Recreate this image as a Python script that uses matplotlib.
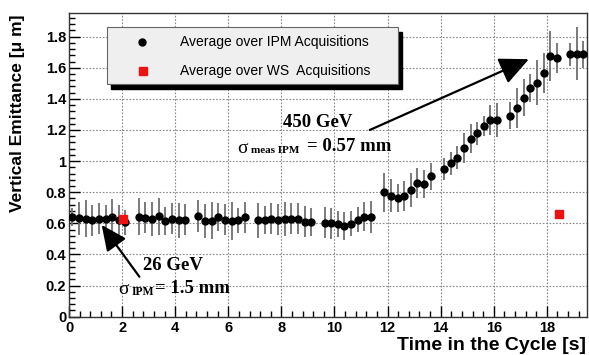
import matplotlib
matplotlib.use("Agg")
import matplotlib.pyplot as plt
from matplotlib.patches import Rectangle
from matplotlib.ticker import MultipleLocator, FuncFormatter
from matplotlib.lines import Line2D

# ---- data ----
ipm_time = [0.125, 0.375, 0.625, 0.875, 1.125, 1.375, 1.625, 1.875, 2.125,
            2.625, 2.875, 3.125, 3.375, 3.625, 3.875, 4.125, 4.375,
            4.875, 5.125, 5.375, 5.625, 5.875, 6.125, 6.375, 6.625,
            7.125, 7.375, 7.625, 7.875, 8.125, 8.375, 8.625, 8.875, 9.125,
            9.625, 9.875, 10.125, 10.375, 10.625, 10.875, 11.125, 11.375,
            11.875, 12.125, 12.375, 12.625, 12.875, 13.125, 13.375, 13.625,
            14.125, 14.375, 14.625, 14.875, 15.125, 15.375, 15.625, 15.875, 16.125,
            16.625, 16.875, 17.125, 17.375, 17.625, 17.875, 18.125, 18.375,
            18.875, 19.125, 19.375]
ipm_emit = [0.640, 0.632, 0.630, 0.620, 0.630, 0.626, 0.638, 0.620, 0.606,
            0.643, 0.637, 0.627, 0.645, 0.618, 0.630, 0.619, 0.624,
            0.647, 0.615, 0.618, 0.638, 0.622, 0.615, 0.620, 0.638,
            0.619, 0.619, 0.629, 0.622, 0.629, 0.629, 0.629, 0.611, 0.611,
            0.604, 0.600, 0.597, 0.585, 0.599, 0.623, 0.643, 0.641,
            0.800, 0.777, 0.762, 0.774, 0.812, 0.858, 0.855, 0.903,
            0.948, 0.986, 1.022, 1.083, 1.145, 1.178, 1.226, 1.265, 1.265,
            1.291, 1.340, 1.408, 1.469, 1.505, 1.565, 1.677, 1.662,
            1.687, 1.689, 1.687]
ipm_err = [0.06, 0.107, 0.12, 0.10, 0.10, 0.09, 0.12, 0.10, 0.08,
           0.12, 0.10, 0.11, 0.12, 0.09, 0.10, 0.11, 0.10,
           0.10, 0.11, 0.12, 0.09, 0.10, 0.12, 0.08, 0.10,
           0.11, 0.09, 0.10, 0.10, 0.11, 0.10, 0.10, 0.10, 0.09,
           0.10, 0.10, 0.085, 0.09, 0.08, 0.08, 0.095, 0.10,
           0.125, 0.107, 0.09, 0.096, 0.11, 0.096, 0.09, 0.086,
           0.07, 0.075, 0.075, 0.095, 0.096, 0.075, 0.065, 0.096, 0.107,
           0.086, 0.13, 0.118, 0.09, 0.145, 0.128, 0.16, 0.096,
           0.075, 0.17, 0.086]

ws_time = [2.02, 18.45]
ws_emit = [0.626, 0.658]

legend_labels = ["Average over IPM Acquisitions", "Average over WS  Acquisitions"]
xlabel = "Time in the Cycle [s]"
ylabel = "Vertical Emittance [\u03bc m]"

# ---- figure ----
fig = plt.figure(figsize=(5.89, 3.55), dpi=100)
ax = fig.add_axes([69/589, 1-316.7/355, 517.7/589, 303.4/355])

ax.set_xlim(0, 19.5)
ax.set_ylim(0, 1.95)

ax.errorbar(ipm_time, ipm_emit, yerr=ipm_err, fmt='o', color='black',
            ms=5, ecolor='#707070', elinewidth=1.3, capsize=0, zorder=3)
ax.plot(ws_time, ws_emit, 's', color='#ee1111', ms=6, mec='#ee1111', zorder=4)

# axes styling
sans = 'Liberation Sans'
ax.xaxis.set_major_locator(MultipleLocator(2))
ax.xaxis.set_minor_locator(MultipleLocator(0.4))
ax.yaxis.set_major_locator(MultipleLocator(0.2))
ax.yaxis.set_minor_locator(MultipleLocator(0.04))
ax.yaxis.set_major_formatter(FuncFormatter(lambda v, p: f"{v:.1f}".rstrip('0').rstrip('.') if abs(v - round(v)) < 1e-9 else f"{v:.1f}"))
ax.tick_params(which='both', direction='in', top=False, right=False, color='black')
ax.tick_params(which='major', length=8, width=1, pad=3)
ax.tick_params(which='minor', length=4, width=1)
ax.tick_params(axis='y', which='major', pad=2)
for lab in ax.get_xticklabels() + ax.get_yticklabels():
    lab.set_fontfamily(sans)
    lab.set_fontweight('bold')
    lab.set_fontsize(10.5)
ax.grid(True, which='major', color='#888888', linestyle=(0, (1.5, 1.5)), linewidth=0.8)
ax.set_axisbelow(True)
for s in ax.spines.values():
    s.set_linewidth(1.0)
    s.set_color('#333333')

fig.text(586/589, 1-345/355, xlabel, ha='right', va='center',
         fontfamily=sans, fontweight='bold', fontsize=14)
fig.text(18/589, 1-113/355, ylabel, ha='center', va='center', rotation=90,
         fontfamily=sans, fontweight='bold', fontsize=12.5)

# legend box (manual, ROOT style with shadow)
lx0, lx1 = 0.0728, 0.636
ly0, ly1 = 0.767, 0.956
dx, dy = 4/517.7, 5/303.4
ax.add_patch(Rectangle((lx0+dx, ly0-dy), lx1-lx0, ly1-ly0, transform=ax.transAxes,
                       facecolor='black', edgecolor='black', zorder=5, clip_on=False))
ax.add_patch(Rectangle((lx0, ly0), lx1-lx0, ly1-ly0, transform=ax.transAxes,
                       facecolor='#efefef', edgecolor='#666666', lw=0.8, zorder=6, clip_on=False))
ax.add_line(Line2D([0.141], [0.905], marker='o', color='black', ms=5,
                   transform=ax.transAxes, zorder=7, ls='none'))
ax.add_line(Line2D([0.143], [0.810], marker='s', color='#ee1111', ms=6,
                   transform=ax.transAxes, zorder=7, ls='none'))
ax.text(0.214, 0.905, legend_labels[0], transform=ax.transAxes, ha='left', va='center',
        fontfamily=sans, fontsize=10, zorder=7)
ax.text(0.214, 0.810, legend_labels[1], transform=ax.transAxes, ha='left', va='center',
        fontfamily=sans, fontsize=10, zorder=7)

# annotations
serif = 'Liberation Serif'
ax.annotate('', xy=(17.32, 1.655), xytext=(11.33, 1.20),
            arrowprops=dict(arrowstyle='-|>,head_length=1.5,head_width=0.7',
                            mutation_scale=12, lw=1.6, color='black',
                            shrinkA=0, shrinkB=0), zorder=6)
ax.annotate('', xy=(1.23, 0.59), xytext=(2.65, 0.257),
            arrowprops=dict(arrowstyle='-|>,head_length=1.3,head_width=0.6',
                            mutation_scale=12, lw=1.6, color='black',
                            shrinkA=0, shrinkB=0), zorder=6)

ax.text(8.05, 1.22, '450 GeV', ha='left', va='baseline', fontfamily=serif,
        fontweight='bold', fontsize=13.5, zorder=6)
ax.text(6.32, 1.053, '\u03c3', ha='left', va='baseline', fontfamily=serif,
        fontsize=14, zorder=6)
ax.text(6.85, 1.053, 'meas IPM', ha='left', va='baseline', fontfamily=serif,
        fontweight='bold', fontsize=8, zorder=6)
ax.text(8.96, 1.066, '= 0.57 mm', ha='left', va='baseline', fontfamily=serif,
        fontweight='bold', fontsize=13.5, zorder=6)

ax.text(2.785, 0.30, '26 GeV', ha='left', va='baseline', fontfamily=serif,
        fontweight='bold', fontsize=13.5, zorder=6)
ax.text(1.844, 0.146, '\u03c3', ha='left', va='baseline', fontfamily=serif,
        fontsize=14, zorder=6)
ax.text(2.37, 0.14, 'IPM', ha='left', va='baseline', fontfamily=serif,
        fontweight='bold', fontsize=8.5, zorder=6)
ax.text(3.24, 0.152, '= 1.5 mm', ha='left', va='baseline', fontfamily=serif,
        fontweight='bold', fontsize=13.5, zorder=6)

fig.savefig('out.png', dpi=100)
